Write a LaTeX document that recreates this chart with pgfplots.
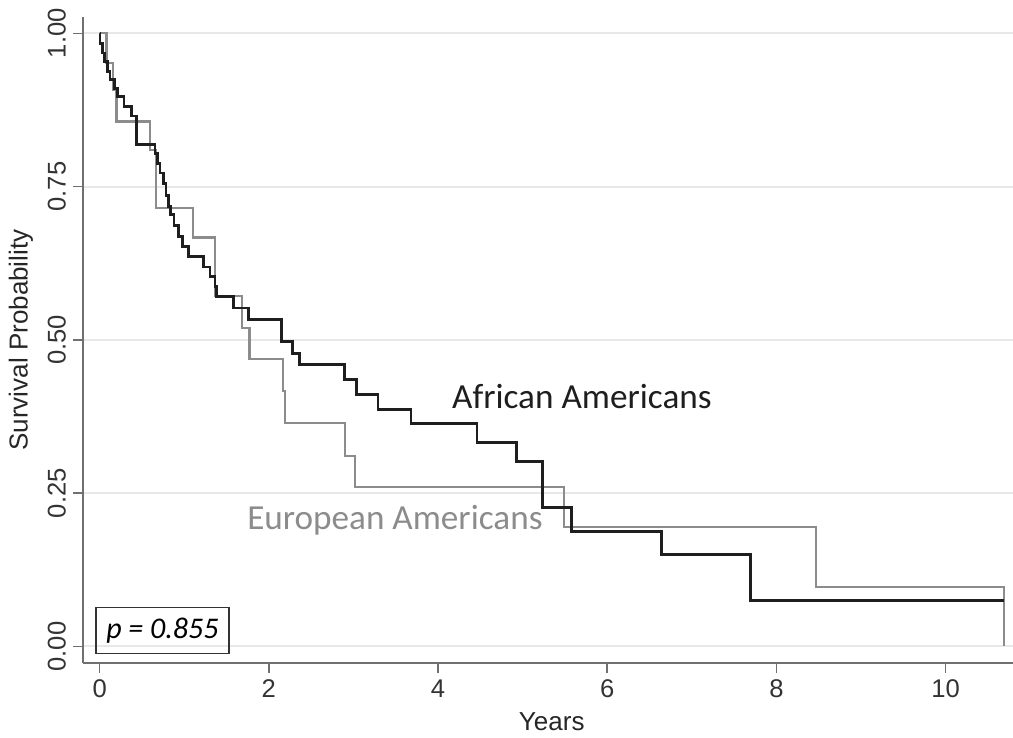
\documentclass[border=0pt]{standalone}
\usepackage{fontspec}
\setmainfont{Liberation Sans}
\newfontfamily\calibri{Carlito}
\usepackage{pgfplots}
\pgfplotsset{compat=1.18}
\definecolor{eagray}{HTML}{8C8C8C}
\definecolor{aablack}{HTML}{1E1E1E}
\definecolor{gridc}{HTML}{E8E8E8}
\definecolor{axc}{HTML}{707070}
\begin{document}
\begin{tikzpicture}
\path[use as bounding box] (-41.5pt,-37.5pt) rectangle (465pt,331.5pt);
\begin{axis}[
  at={(0,0)}, anchor=south west,
  scale only axis, width=465pt, height=323pt,
  xmin=-0.197, xmax=10.796, ymin=-0.027, ymax=1.0266,
  axis x line*=bottom, axis y line*=left,
  axis line style={-, axc, line width=1pt},
  xtick={0,2,4,6,8,10}, xticklabels={0,2,4,6,8,10},
  ytick={0,0.25,0.5,0.75,1}, yticklabels={0.00,0.25,0.50,0.75,1.00},
  tick align=outside, major tick length=5pt,
  tick style={axc, line width=0.8pt},
  ymajorgrids, grid style={gridc, line width=1pt},
  tick label style={font=\fontsize{12.8}{15}\selectfont, text=black!80},
  yticklabel style={rotate=90, anchor=south, xshift=0pt},
  xlabel={Years}, ylabel={Survival Probability},
  label style={font=\fontsize{13}{15}\selectfont, text=black!85},
  xlabel style={at={(axis description cs:0.504,-0.0913)}, anchor=center},
  ylabel style={at={(axis description cs:-0.0667,0.5)}, anchor=center},
  clip=false,
]
\addplot[const plot, eagray, line width=1.1pt] coordinates {
(0,1) (0.08,0.951) (0.16,0.907) (0.2,0.856) (0.595,0.81) (0.665,0.715)
(1.107,0.667) (1.363,0.571) (1.68,0.519) (1.77,0.4685) (2.17,0.416)
(2.19,0.365) (2.90,0.311) (3.02,0.26) (5.49,0.1947) (8.47,0.0968) (10.69,0)
};
\addplot[const plot, aablack, line width=1.4pt] coordinates {
(0,1) (0.004,0.984) (0.03,0.968) (0.06,0.954) (0.094,0.938) (0.122,0.925)
(0.18,0.910) (0.21,0.897) (0.287,0.881) (0.378,0.865) (0.435,0.818)
(0.654,0.804) (0.681,0.788) (0.713,0.772) (0.752,0.755) (0.783,0.736)
(0.811,0.717) (0.839,0.704) (0.878,0.687) (0.93,0.668) (0.981,0.652)
(1.048,0.636) (1.225,0.619) (1.304,0.603) (1.363,0.587) (1.382,0.571)
(1.58,0.552) (1.76,0.533) (2.15,0.497) (2.28,0.478) (2.36,0.460)
(2.89,0.436) (3.04,0.411) (3.29,0.387) (3.68,0.363) (4.46,0.333)
(4.93,0.301) (5.23,0.227) (5.58,0.187) (6.64,0.150) (7.69,0.075) (10.69,0.075)
};
\node[font=\calibri\fontsize{17.6}{20}\selectfont, text=aablack] at (axis cs:5.70,0.407) {African Americans};
\node[font=\calibri\fontsize{17.6}{20}\selectfont, text=eagray] at (axis cs:3.49,0.2066) {European Americans};
\node[draw=black!80, line width=0.6pt, minimum width=66.5pt, minimum height=23pt, inner sep=0pt,
      font=\calibri\itshape\fontsize{15}{17}\selectfont] at (axis cs:0.742,0.0256) {p = 0.855};
\end{axis}
\end{tikzpicture}
\end{document}
